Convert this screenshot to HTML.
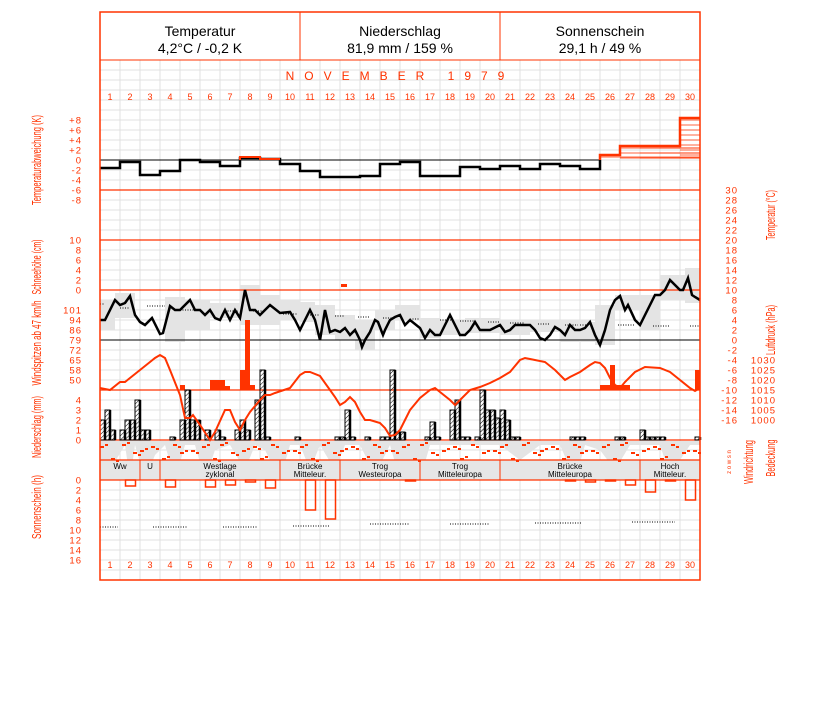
<!DOCTYPE html>
<html><head><meta charset="utf-8"><style>
body{margin:0;background:#fff;width:827px;height:702px;overflow:hidden}
svg{display:block}
text{font-family:"Liberation Sans",sans-serif}
</style></head><body>
<svg id="s" width="827" height="702" xmlns="http://www.w3.org/2000/svg">
<rect width="827" height="702" fill="#fff"/>
<g id="grid"></g>
<g id="bg"></g>
<g id="main"></g>
<line x1="100" y1="60" x2="700" y2="60" stroke="#ff3300"/>
<line x1="300" y1="12" x2="300" y2="60" stroke="#ff3300"/>
<line x1="500" y1="12" x2="500" y2="60" stroke="#ff3300"/>
<g font-size="14" text-anchor="middle" fill="#000">
<text x="200" y="36">Temperatur</text><text x="200" y="53">4,2°C / -0,2 K</text>
<text x="400" y="36">Niederschlag</text><text x="400" y="53">81,9 mm / 159 %</text>
<text x="600" y="36">Sonnenschein</text><text x="600" y="53">29,1 h / 49 %</text>
</g>
<text x="400" y="80" font-size="12" fill="#ff3300" text-anchor="middle" letter-spacing="10">NOVEMBER   1979</text>
<rect x="100" y="12" width="600" height="568" fill="none" stroke="#ff3300" stroke-width="1.5"/>
</svg>
<script>
var R="#ff3300",NS="http://www.w3.org/2000/svg";
function el(p,t,a,txt){var e=document.createElementNS(NS,t);for(var k in a)e.setAttribute(k,a[k]);if(txt!=null)e.textContent=txt;(typeof p=="string"?document.getElementById(p):p).appendChild(e);return e;}
for(var y=70;y<580;y+=10)el("grid","line",{x1:100,x2:700,y1:y,y2:y,stroke:"#e0e0e0"});
for(var x=120;x<700;x+=20)el("grid","line",{x1:x,x2:x,y1:60,y2:580,stroke:"#e0e0e0"});
for(var d=1;d<=30;d++){el("main","text",{x:110+(d-1)*20,y:100,"font-size":9,fill:R,"text-anchor":"middle"},d);el("main","text",{x:110+(d-1)*20,y:568,"font-size":9,fill:R,"text-anchor":"middle"},d);}
[190,240,290,390,440,460,480].forEach(function(y){el("main","line",{x1:100,x2:700,y1:y,y2:y,stroke:R,"stroke-width":1.3});});
el("main","line",{x1:100,x2:700,y1:340,y2:340,stroke:"#000"});
var dev=[168,162,175,171,160,162,166,158,159,164,171,177,177,176,164,162,176,176,167,169,166,169,164,166,169];
var pth="M100 "+dev[0];
dev.forEach(function(v,i){var x=100+i*20;pth+=" L"+x+" "+v+" L"+(x+20)+" "+v;});
pth+=" L600 160";
[[600,155],[620,146],[640,146],[660,146],[680,118]].forEach(function(b){for(var yy=b[1]+2;yy<160;yy+=5)el("main","line",{x1:b[0],x2:700,y1:yy,y2:yy,stroke:R,"stroke-width":0.8});});
el("main","line",{x1:100,x2:600,y1:160,y2:160,stroke:"#000"});
el("main","path",{d:pth,fill:"none",stroke:"#000","stroke-width":2.5});
el("main","path",{d:"M600 160 L600 155 L620 155 L620 146 L680 146 L680 118 L700 118",fill:"none",stroke:R,"stroke-width":2.5});
el("main","path",{d:"M240 160 L240 157 L260 157 L260 159 L280 159",fill:"none",stroke:R,"stroke-width":2});
var boxes=[[100,300,15,30],[115,293,20,25],[165,297,20,45],[185,300,25,30],[210,303,30,15],[240,285,20,40],[260,295,20,30],[280,300,20,20],[300,302,15,20],[315,305,20,30],[335,315,20,25],[355,320,20,30],[375,310,20,20],[395,305,25,15],[420,318,20,20],[440,320,25,15],[465,318,35,15],[500,320,30,15],[530,320,30,12],[560,320,30,22],[590,322,15,20],[595,305,20,40],[615,295,30,15],[640,295,20,35],[660,275,25,25],[685,268,15,35]];
boxes.forEach(function(b){el("bg","rect",{x:b[0],y:b[1],width:b[2],height:b[3],fill:"#e4e4e4"});});
var tl=[[100,320],[105,320],[115,300],[120,305],[125,303],[130,296],[135,315],[140,322],[145,325],[152,318],[160,334],[163,333],[170,306],[175,310],[180,310],[190,300],[195,310],[200,310],[205,315],[210,310],[215,318],[220,320],[225,310],[230,320],[235,310],[240,318],[245,290],[250,310],[255,310],[260,315],[270,305],[280,313],[290,312],[295,320],[300,330],[310,310],[315,320],[320,340],[325,310],[330,332],[335,330],[340,332],[345,328],[350,335],[355,330],[360,340],[362,347],[365,340],[370,332],[375,320],[378,322],[383,335],[385,330],[390,320],[395,317],[400,315],[405,325],[410,320],[420,328],[425,338],[430,330],[435,335],[440,335],[445,325],[450,315],[455,325],[460,335],[465,335],[470,330],[475,322],[480,330],[485,330],[490,330],[500,325],[505,332],[510,330],[515,325],[530,325],[535,330],[540,338],[545,340],[550,335],[555,327],[560,330],[565,335],[570,325],[575,330],[580,330],[585,328],[590,322],[595,335],[600,345],[605,330],[610,310],[615,300],[620,296],[625,310],[628,305],[635,320],[640,325],[645,315],[650,305],[655,295],[660,295],[665,290],[670,280],[675,285],[680,290],[683,290],[688,278],[692,295],[695,297],[700,300]];
el("main","polyline",{points:tl.join(" "),fill:"none",stroke:"#000","stroke-width":2.5});
[[100,105,304],[120,130,308],[147,165,306],[175,200,310],[225,238,311],[253,265,311],[283,298,314],[310,320,315],[335,345,316],[358,370,317],[383,395,318],[410,420,319],[440,452,320],[460,475,321],[488,500,322],[510,525,323],[538,550,324],[565,578,325],[580,592,325],[618,635,325],[653,670,326],[690,700,326]].forEach(function(s){el("main","line",{x1:s[0],x2:s[1],y1:s[2],y2:s[2],stroke:"#000","stroke-dasharray":"1,1.5"});});
[[180,385,5],[210,380,15],[225,386,5],[240,370,5],[245,320,5],[250,385,5],[600,385,30],[610,365,5],[695,370,5]].forEach(function(b){el("main","rect",{x:b[0],y:b[1],width:b[2],height:390-b[1],fill:R});});
el("main","rect",{x:341,y:284,width:6,height:3,fill:R});
var defs=el("s","defs",{});var pat=el(defs,"pattern",{id:"h",width:3,height:3,patternUnits:"userSpaceOnUse",patternTransform:"rotate(45)"});
el(pat,"line",{x1:0,y1:0,x2:0,y2:3,stroke:"#000"});
[[100,420],[105,410],[110,430],[120,430],[125,420],[130,420],[135,400],[140,430],[145,430],[170,437],[180,420],[185,390],[190,420],[195,420],[205,430],[215,430],[220,437],[235,430],[240,420],[245,430],[255,400],[260,370],[265,437],[295,437],[335,437],[340,437],[345,410],[350,437],[365,437],[380,437],[385,437],[390,370],[395,432],[400,432],[425,437],[430,422],[435,437],[450,410],[455,400],[460,437],[465,437],[475,437],[480,390],[485,410],[490,410],[495,418],[500,410],[505,420],[510,437],[515,437],[570,437],[575,437],[580,437],[615,437],[620,437],[640,430],[645,437],[650,437],[655,437],[660,437],[695,437]].forEach(function(b){el("main","rect",{x:b[0],y:b[1],width:5,height:440-b[1],fill:"url(#h)",stroke:"#000","stroke-width":1});el("main","line",{x1:b[0]+5,x2:b[0]+5,y1:b[1],y2:440,stroke:"#000","stroke-width":2.5});});
var pr=[[100,388],[110,390],[120,382],[125,382],[140,370],[150,362],[155,358],[160,355],[165,358],[170,370],[180,395],[185,418],[190,418],[193,415],[200,425],[210,440],[215,432],[225,410],[230,410],[235,422],[240,430],[245,420],[250,412],[260,400],[265,395],[270,395],[275,393],[290,388],[300,375],[305,372],[310,372],[320,376],[330,390],[335,397],[340,405],[345,402],[350,397],[355,402],[360,412],[365,420],[370,420],[380,423],[385,428],[390,436],[395,435],[400,430],[405,420],[410,410],[420,398],[430,390],[435,388],[440,392],[450,400],[455,405],[460,400],[470,390],[480,387],[490,383],[500,378],[510,372],[520,360],[525,358],[530,359],[545,362],[555,370],[565,380],[570,377],[580,372],[590,365],[595,362],[600,363],[605,368],[610,378],[615,385],[620,388],[625,382],[635,372],[645,367],[660,368],[670,372],[680,380],[690,388],[695,391],[700,388]];
el("main","polyline",{points:pr.join(" "),fill:"none",stroke:R,"stroke-width":2});
var gp="M100 441 L100 470 L110 470 L125 445 L130 480 L135 445 L145 480 L155 455 L165 445 L175 480 L185 445 L195 445 L205 480 L215 450 L230 445 L245 470 L255 445 L265 450 L280 480 L290 445 L300 445 L310 470 L320 445 L335 470 L345 445 L360 445 L375 475 L390 445 L400 480 L410 480 L420 480 L430 445 L500 445 L520 460 L540 445 L560 445 L575 480 L585 445 L600 450 L615 470 L630 445 L660 445 L670 475 L690 445 L700 445 L700 441 Z";
el("bg","path",{d:gp,fill:"#e4e4e4"});
el("bg","rect",{x:100,y:460,width:600,height:20,fill:"#e6e6e6"});
for(var i=0;i<60;i++){var x=100+i*10+(i*37%4),y=[446,452,458,450,444][(i*7)%5];el("main","rect",{x:x,y:y,width:4,height:2,fill:R});el("main","rect",{x:x+5,y:y+((i*3)%2?2:-2),width:3,height:2,fill:R});}
[140,160,280,340,420,500,640].forEach(function(x){el("main","line",{x1:x,x2:x,y1:460,y2:480,stroke:R});});
[[120,"Ww",""],[150,"U",""],[220,"Westlage","zyklonal"],[310,"Brücke","Mitteleur."],[380,"Trog","Westeuropa"],[460,"Trog","Mitteleuropa"],[570,"Brücke","Mitteleuropa"],[670,"Hoch","Mitteleur."]].forEach(function(l){el("main","text",{x:l[0],y:469,"font-size":8,"text-anchor":"middle",fill:"#000"},l[1]);el("main","text",{x:l[0],y:477,"font-size":8,"text-anchor":"middle",fill:"#000"},l[2]);});
[[125,486],[165,487],[205,487],[225,485],[245,482],[265,488],[305,510],[325,519],[405,481],[565,481],[585,482],[605,481],[625,485],[645,492],[665,481],[685,500]].forEach(function(b){el("main","rect",{x:b[0]+0.5,y:480,width:10,height:b[1]-480,fill:"none",stroke:R,"stroke-width":1.5});});
[[100,118,527],[153,188,527],[223,258,527],[293,330,526],[370,410,524],[450,490,524],[535,582,523],[632,675,522]].forEach(function(s){el("main","line",{x1:s[0],x2:s[1],y1:s[2],y2:s[2],stroke:"#000","stroke-dasharray":"1,1.5"});});
function tk(x,y,t){el("main","text",{x:x,y:y+3.5,"font-size":9.5,fill:R,"text-anchor":"end","letter-spacing":1},t);}
["+8","+6","+4","+2","0","-2","-4","-6","-8"].forEach(function(t,i){tk(82,120+i*10,t);});
["10","8","6","4","2","0"].forEach(function(t,i){tk(82,240+i*10,t);});
["101","94","86","79","72","65","58","50"].forEach(function(t,i){tk(82,310+i*10,t);});
["4","3","2","1","0"].forEach(function(t,i){tk(82,400+i*10,t);});
["0","2","4","6","8","10","12","14","16"].forEach(function(t,i){tk(82,480+i*10,t);});
for(var v=30,y=190;v>=-16;v-=2,y+=10){tk(738,y,v);}
[1030,1025,1020,1015,1010,1005,1000].forEach(function(t,i){tk(776,360+i*10,t);});
function rl(x,y,t,len){el("main","text",{x:0,y:0,"font-size":13,fill:R,"text-anchor":"middle",textLength:len,lengthAdjust:"spacingAndGlyphs",transform:"translate("+x+","+y+") rotate(-90)"},t);}
rl(41,160,"Temperaturabweichung (K)",90);rl(41,267,"Schneehöhe (cm)",55);rl(41,343,"Windspitzen ab 47 km/h",85);rl(41,427,"Niederschlag (mm)",62);rl(41,507,"Sonnenschein (h)",64);
rl(775,215,"Temperatur (°C)",50);rl(775,330,"Luftdruck (hPa)",50);rl(753,462,"Windrichtung",44);rl(775,458,"Bedeckung",37);
el("main","text",{x:0,y:0,"font-size":6,fill:R,"text-anchor":"middle",transform:"translate(731,462) rotate(-90)"},"z o w s n");
</script>
</body></html>
